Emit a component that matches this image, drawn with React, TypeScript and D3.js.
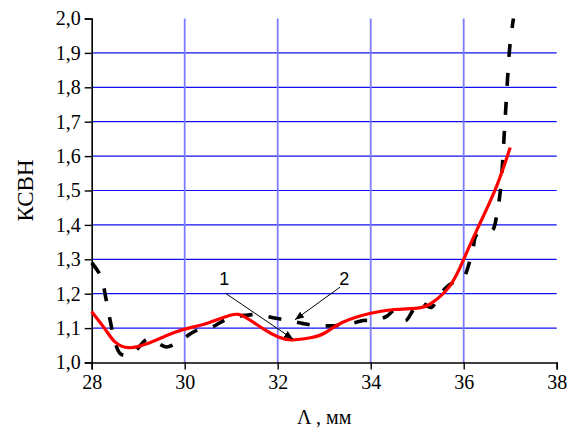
import { useEffect, useRef } from "react";
import * as d3 from "d3";

// curve 1 (red, solid)
const redX = [28.0, 28.3, 28.5, 28.8, 29.2, 29.6, 30.0, 30.5, 31.0, 31.3, 31.7, 32.0, 32.3, 32.7, 33.0, 33.4, 34.0, 34.5, 35.0, 35.3, 35.7, 36.0, 36.3, 36.7, 37.0];
const redY = [1.148, 1.095, 1.06, 1.043, 1.055, 1.078, 1.097, 1.115, 1.138, 1.132, 1.097, 1.075, 1.066, 1.072, 1.085, 1.117, 1.143, 1.154, 1.158, 1.172, 1.222, 1.3, 1.39, 1.51, 1.625];

// curve 2 (black, dashed)
const blackX = [28.0, 28.2, 28.3, 28.4, 28.5, 28.62, 28.8, 28.95, 29.2, 29.4, 29.6, 29.8, 30.0, 30.2, 30.6, 30.8, 31.0, 31.3, 31.55, 31.9, 32.25, 32.55, 32.85, 33.2, 33.5, 33.84, 34.1, 34.35, 34.5, 34.75, 34.9, 35.05, 35.3, 35.45, 35.6, 35.8, 36.0, 36.05, 36.12, 36.2, 36.27, 36.45, 36.62, 36.7, 36.78, 36.83, 36.87, 36.91, 36.95, 37.0, 37.07];
const blackY = [1.29, 1.25, 1.19, 1.12, 1.06, 1.025, 1.02, 1.035, 1.068, 1.058, 1.045, 1.055, 1.072, 1.09, 1.104, 1.119, 1.13, 1.137, 1.139, 1.13, 1.122, 1.113, 1.107, 1.107, 1.11, 1.122, 1.122, 1.135, 1.15, 1.122, 1.15, 1.177, 1.16, 1.19, 1.215, 1.235, 1.245, 1.26, 1.29, 1.33, 1.37, 1.378, 1.385, 1.42, 1.49, 1.57, 1.66, 1.75, 1.84, 1.93, 2.0];

const xTicks = [28, 30, 32, 34, 36, 38];
const yTicks = [1.0, 1.1, 1.2, 1.3, 1.4, 1.5, 1.6, 1.7, 1.8, 1.9, 2.0];

// annotation labels and arrows
const noteLabels = ["1", "2"];
const noteAt = [[30.85, 1.225], [33.43, 1.225]];
const noteArrows = [[30.88, 1.201, 32.33, 1.068], [33.34, 1.219, 32.37, 1.124]];

export default function App() {
  const ref = useRef<SVGSVGElement>(null);

  useEffect(() => {
    const w = 568, h = 435;
    const svg = d3.select(ref.current);
    svg.selectAll("*").remove();

    const x = d3.scaleLinear().domain([28, 38]).range([91.7, 556.7]);
    const y = d3.scaleLinear().domain([1.0, 2.0]).range([362.5, 18.5]);
    const serif = "'Liberation Serif', 'Times New Roman', serif";
    const sans = "'Liberation Sans', Arial, sans-serif";

    svg
      .append("defs")
      .append("marker")
      .attr("id", "ah")
      .attr("viewBox", "0 0 10 10")
      .attr("refX", 10)
      .attr("refY", 5)
      .attr("markerWidth", 9)
      .attr("markerHeight", 9)
      .attr("markerUnits", "userSpaceOnUse")
      .attr("orient", "auto")
      .append("path")
      .attr("d", "M0,1 L10,5 L0,9 Z")
      .attr("fill", "#000");

    // grid
    svg
      .append("g")
      .selectAll("line")
      .data(yTicks.slice(1, -1))
      .join("line")
      .attr("x1", x(28))
      .attr("x2", x(38))
      .attr("y1", (d) => y(d))
      .attr("y2", (d) => y(d))
      .attr("stroke", "#1010f0")
      .attr("stroke-width", 1.2);

    svg
      .append("g")
      .selectAll("line")
      .data(xTicks.slice(1, -1))
      .join("line")
      .attr("x1", (d) => x(d))
      .attr("x2", (d) => x(d))
      .attr("y1", y(2.0))
      .attr("y2", y(1.0))
      .attr("stroke", "#7c7cff")
      .attr("stroke-width", 1.8);

    // axes
    const xAxis = svg.append("g").attr("transform", `translate(0,${y(1.0)})`);
    xAxis
      .call(d3.axisBottom(x).tickValues(d3.range(28, 38.01, 1)).tickSize(3).tickFormat(() => ""))
      .call((g) => g.select(".domain").remove());
    xAxis.call(d3.axisBottom(x).tickValues(xTicks).tickSize(7).tickPadding(5).tickFormat(d3.format("d")));
    xAxis.selectAll("text").attr("font-family", serif).attr("font-size", 20).attr("fill", "#000");

    const yAxis = svg.append("g").attr("transform", `translate(${x(28)},0)`);
    yAxis
      .call(d3.axisLeft(y).tickValues(d3.range(1.05, 2, 0.1)).tickSize(3).tickFormat(() => ""))
      .call((g) => g.select(".domain").remove());
    yAxis.call(
      d3
        .axisLeft(y)
        .tickValues(yTicks)
        .tickSize(7)
        .tickPadding(4)
        .tickFormat((d) => d3.format(".1f")(d as number).replace(".", ","))
    );
    yAxis.selectAll("text").attr("font-family", serif).attr("font-size", 20).attr("fill", "#000");
    svg.selectAll(".domain").attr("stroke-width", 1.6);
    svg.selectAll(".tick line").attr("stroke-width", 1.4);

    // curves
    const redPts = redX.map((v, i) => [v, redY[i]] as [number, number]);
    const blackPts = blackX.map((v, i) => [v, blackY[i]] as [number, number]);
    const line = d3
      .line<[number, number]>()
      .x((d) => x(d[0]))
      .y((d) => y(d[1]));

    svg
      .append("path")
      .attr("d", line.curve(d3.curveCatmullRom.alpha(0.5))(blackPts))
      .attr("fill", "none")
      .attr("stroke", "#000")
      .attr("stroke-width", 3.6)
      .attr("stroke-dasharray", "13,16");

    svg
      .append("path")
      .attr("d", line.curve(d3.curveNatural)(redPts))
      .attr("fill", "none")
      .attr("stroke", "#ff0000")
      .attr("stroke-width", 3.2);

    // annotations
    svg
      .append("g")
      .selectAll("line")
      .data(noteArrows)
      .join("line")
      .attr("x1", (d) => x(d[0]))
      .attr("y1", (d) => y(d[1]))
      .attr("x2", (d) => x(d[2]))
      .attr("y2", (d) => y(d[3]))
      .attr("stroke", "#000")
      .attr("stroke-width", 1)
      .attr("marker-end", "url(#ah)");

    svg
      .append("g")
      .selectAll("text")
      .data(noteLabels)
      .join("text")
      .attr("x", (_, i) => x(noteAt[i][0]))
      .attr("y", (_, i) => y(noteAt[i][1]))
      .attr("text-anchor", "middle")
      .attr("font-family", sans)
      .attr("font-size", 18)
      .text((d) => d);

    // axis titles
    svg
      .append("text")
      .attr("x", (x(28) + x(38)) / 2)
      .attr("y", 424)
      .attr("text-anchor", "middle")
      .attr("font-family", serif)
      .attr("font-size", 20)
      .text("Λ , мм");

    svg
      .append("text")
      .attr("transform", `translate(33,${(y(1) + y(2)) / 2}) rotate(-90)`)
      .attr("text-anchor", "middle")
      .attr("font-family", serif)
      .attr("font-size", 23)
      .text("КСВН");

    svg.attr("width", w).attr("height", h);
  }, []);

  return (
    <svg
      ref={ref}
      width={568}
      height={435}
      style={{ position: "absolute", left: 0, top: 0, background: "#fff" }}
    />
  );
}
